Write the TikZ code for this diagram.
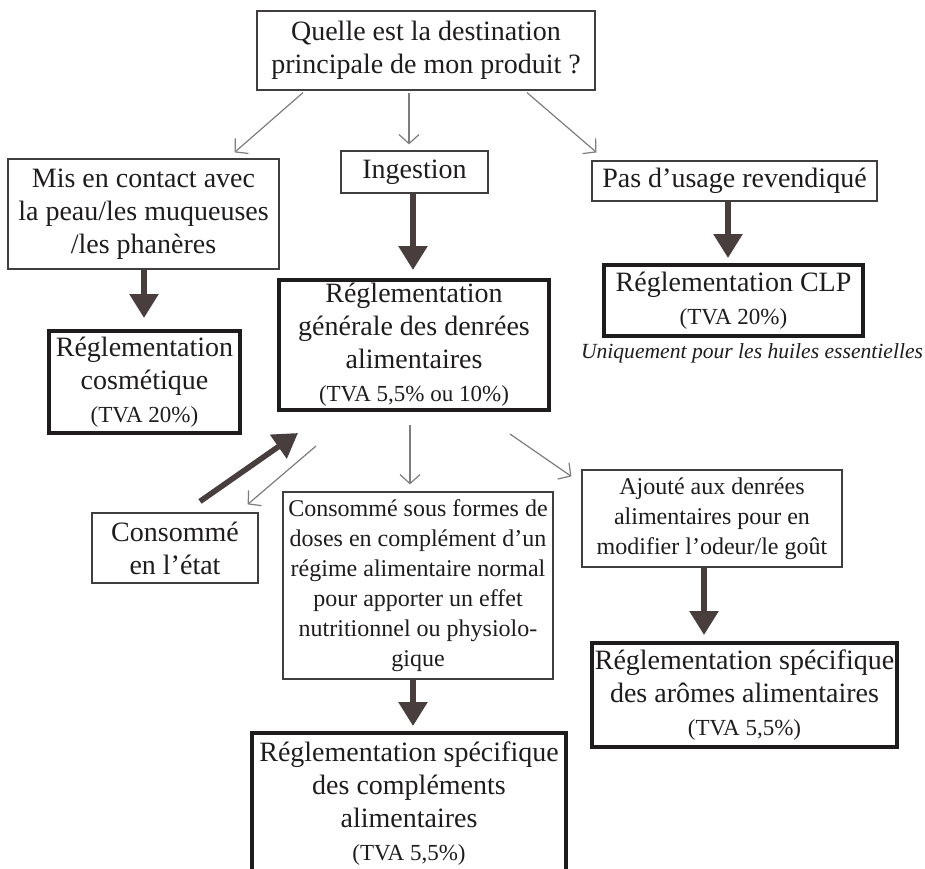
\documentclass[tikz,border=0pt]{standalone}
\usepackage{fontspec}
\setmainfont{Liberation Serif}
\usepackage{xcolor}
\usepackage{tikz}
\usetikzlibrary{arrows.meta}
\definecolor{arrowBrown}{RGB}{72,62,61}
\definecolor{arrowGray}{RGB}{125,125,125}
\definecolor{inkBlack}{RGB}{30,28,28}
\newcommand{\tvaText}[1]{{\fontsize{11.5}{13.5}\selectfont #1}}
\tikzset{%
  % ---
  % boxes
  % ---
  choiceBox/.style={rectangle, draw=inkBlack!85, line width=0.6pt, inner sep=0pt, align=center, text=inkBlack, font=\fontsize{14}{16.5}\selectfont},
  smallChoiceBox/.style={choiceBox, font=\fontsize{12}{15}\selectfont},
  ruleBox/.style={rectangle, draw=inkBlack, line width=2pt, inner sep=0pt, align=center, text=inkBlack, font=\fontsize{14}{16.5}\selectfont},% regulation
  % ---
  % arrows
  % ---
  thinArrow/.style={draw=arrowGray, line width=0.6pt, -{Straight Barb[length=4.5pt,width=10pt]}},
  thickArrow/.style={draw=arrowBrown, line width=2.8pt, -{Triangle[length=12pt,width=14pt]}}}

\begin{document}
\begin{tikzpicture}[x=0.5pt,y=-0.5pt]
    \useasboundingbox (0,0) rectangle (925,868);

    \node[choiceBox, minimum width=169pt, minimum height=39.5pt] (question) at (426,50.5) {Quelle est la destination\\principale de mon produit~?};

    \node[choiceBox, minimum width=135.5pt, minimum height=55pt] (contact) at (143.5,214) {Mis en contact avec\\la peau/les muqueuses\\/les phanères};
    \node[choiceBox, minimum width=73.5pt, minimum height=21pt] (ingestion) at (414.5,172) {Ingestion};
    \node[choiceBox, minimum width=142.5pt, minimum height=20pt] (noUsage) at (734.5,181) {Pas d’usage revendiqué};

    \node[ruleBox, minimum width=95.5pt, minimum height=51pt] (cosmetic) at (144.5,382) {Réglementation\\cosmétique\\\tvaText{(TVA 20\%)}};
    \node[ruleBox, minimum width=135pt, minimum height=65pt] (foodGeneral) at (414,345) {Réglementation\\générale des denrées\\alimentaires\\\tvaText{(TVA 5,5\% ou 10\%)}};
    \node[ruleBox, minimum width=129.5pt, minimum height=35.5pt] (clp) at (733.5,300.5) {Réglementation CLP\\\tvaText{(TVA 20\%)}};
    \node[text=inkBlack, inner sep=0pt, font=\fontsize{10.8}{13}\itshape] (clpNote) at (752,353) {Uniquement pour les huiles essentielles};

    \node[choiceBox, minimum width=83pt, minimum height=35pt] (asIs) at (175,548) {Consommé\\en l’état};
    \node[smallChoiceBox, minimum width=135pt, minimum height=93.5pt] (doses) at (418,585.5) {Consommé sous formes de\\doses en complément d’un\\régime alimentaire normal\\pour apporter un effet\\nutritionnel ou physiolo-\\gique};
    \node[smallChoiceBox, minimum width=130pt, minimum height=48.5pt] (flavour) at (712,518.5) {Ajouté aux denrées\\alimentaires pour en\\modifier l’odeur/le goût};

    \node[ruleBox, minimum width=152.5pt, minimum height=52pt] (aromas) at (744.5,695) {Réglementation spécifique\\des arômes alimentaires\\\tvaText{(TVA 5,5\%)}};
    \node[ruleBox, minimum width=157pt, minimum height=71pt] (supplements) at (409,804) {Réglementation spécifique\\des compléments\\alimentaires\\\tvaText{(TVA 5,5\%)}};

    % question -> answers
    \draw[thinArrow] ([xshift=-61.5pt,yshift=-1pt]question.south) -- ([xshift=45.5pt,yshift=3pt]contact.north);
    \draw[thinArrow] ([xshift=-8.5pt,yshift=-1pt]question.south) -- ([xshift=-2.75pt,yshift=3pt]ingestion.north);
    \draw[thinArrow] ([xshift=50.5pt,yshift=-1pt]question.south) -- ([xshift=-69pt,yshift=4pt]noUsage.north);

    % answers -> regulations
    \draw[thickArrow, shorten >=5.5pt] ([xshift=0.25pt]contact.south) -- ([xshift=0.25pt]contact.south |- cosmetic.north);
    \draw[thickArrow, shorten >=4pt] ([xshift=-0.75pt]ingestion.south) -- ([xshift=-0.75pt]ingestion.south |- foodGeneral.north);
    \draw[thickArrow, shorten >=2.5pt] ([xshift=-3.25pt]noUsage.south) -- ([xshift=-3.25pt]noUsage.south |- clp.north);

    % food regulation <-> sub cases
    \draw[thickArrow] ([xshift=12.5pt,yshift=5.5pt]asIs.north) -- ([xshift=10.5pt,yshift=-10.5pt]foodGeneral.south west);
    \draw[thinArrow] ([xshift=19.5pt,yshift=-17pt]foodGeneral.south west) -- ([xshift=-5.5pt,yshift=4pt]asIs.north east);
    \draw[thinArrow, shorten <=6.5pt, shorten >=3.5pt] ([xshift=-2pt]foodGeneral.south) -- ([xshift=-2pt]foodGeneral.south |- doses.north);
    \draw[thinArrow] ([xshift=-20.5pt,yshift=-11pt]foodGeneral.south east) -- ([xshift=-5pt,yshift=-3.5pt]flavour.north west);

    \draw[thickArrow, shorten >=3pt] ([xshift=-4pt]flavour.south) -- ([xshift=-4pt]flavour.south |- aromas.north);
    \draw[thickArrow, shorten >=2.5pt] ([xshift=-2.5pt]doses.south) -- ([xshift=-2.5pt]doses.south |- supplements.north);

    \end{tikzpicture}
\end{document}
